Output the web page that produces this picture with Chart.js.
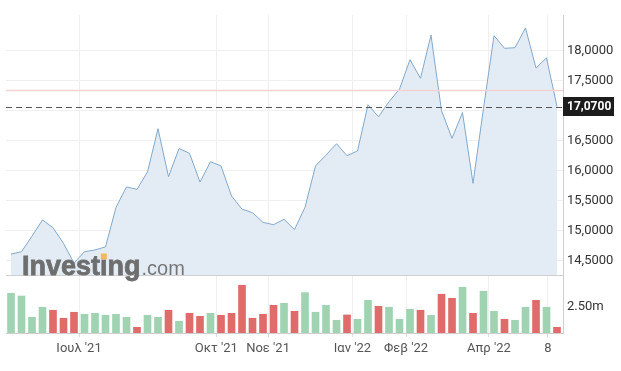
<!DOCTYPE html>
<html>
<head>
<meta charset="utf-8">
<script src="https://cdn.jsdelivr.net/npm/chart.js@4.4.1/dist/chart.umd.min.js"></script>
<style>
  html, body { margin: 0; padding: 0; background: #fff; }
  #wrap { width: 621px; height: 371px; }
</style>
</head>
<body>
<div id="wrap"><canvas id="chart" width="621" height="371"></canvas></div>
<script>
// weekly closes (index 0 = first week of the range)
const closes = [14.61, 14.65, 14.91, 15.18, 15.05, 14.79, 14.46, 14.65, 14.68, 14.73,
  15.39, 15.73, 15.69, 15.98, 16.70, 15.90, 16.37, 16.29, 15.81, 16.15,
  16.08, 15.58, 15.36, 15.30, 15.14, 15.10, 15.19, 15.02, 15.39, 16.08,
  16.26, 16.45, 16.25, 16.33, 17.10, 16.90, 17.15, 17.36, 17.85, 17.54,
  18.26, 17.00, 16.54, 16.97, 15.79, 17.04, 18.25, 18.04, 18.05, 18.38,
  17.71, 17.88, 17.07];

// weekly volume, millions
const volumes = [3.72, 3.46, 1.47, 2.41, 2.13, 1.38, 1.94, 1.75, 1.84, 1.66,
  1.75, 1.47, 0.53, 1.66, 1.47, 2.13, 1.10, 1.84, 1.56, 1.84,
  1.66, 1.84, 4.47, 1.38, 1.75, 2.59, 2.78, 2.03, 3.78, 1.94,
  2.59, 1.19, 1.69, 1.28, 3.06, 2.50, 2.41, 1.28, 2.22, 2.13,
  1.66, 3.63, 3.25, 4.28, 1.84, 3.91, 2.03, 1.28, 1.19, 2.41,
  3.06, 2.41, 0.53];

// month markers on the week axis
const xTickPos = [6.48, 19.55, 24.48, 32.52, 37.62, 45.52, 51.14];
const xTickLabels = ["Ιουλ '21", "Οκτ '21", "Νοε '21", "Ιαν '22", "Φεβ '22", "Απρ '22", "8"];

const priceTicks = [14.5, 15, 15.5, 16, 16.5, 17, 17.5, 18];
const volTicks = [2.5];

const refLevel = 17.345;   // pink line
const lastClose = closes[closes.length - 1];

const priceMin = 14.262, priceMax = 18.595;
const volMax = 5.43;

const GREEN = '#9fd3b1';
const RED = '#e06b6b';

Chart.defaults.font.family = 'Roboto';
Chart.defaults.font.size = 13;

const pricePoints = closes.map((v, i) => ({ x: i, y: v }));
const volPoints = volumes.map((v, i) => ({ x: i, y: v }));
const volColors = closes.map((v, i) => (i === 0 || v >= closes[i - 1]) ? GREEN : RED);

const fmtPrice = v => v.toFixed(4).replace('.', ',');

const overlay = {
  id: 'overlay',
  afterDatasetsDraw(chart) {
    const { ctx, chartArea: a, scales: { y } } = chart;
    ctx.save();
    // pink reference line
    const yr = Math.round(y.getPixelForValue(refLevel)) + 0.5;
    ctx.strokeStyle = '#f3d2d2';
    ctx.lineWidth = 1.5;
    ctx.beginPath();
    ctx.moveTo(a.left, yr);
    ctx.lineTo(a.right, yr);
    ctx.stroke();
    // dashed last price
    const yl = Math.round(y.getPixelForValue(lastClose)) + 0.5;
    ctx.strokeStyle = '#555';
    ctx.lineWidth = 1;
    ctx.setLineDash([6, 4]);
    ctx.beginPath();
    ctx.moveTo(a.left, yl);
    ctx.lineTo(a.right, yl);
    ctx.stroke();
    ctx.restore();
  },
  afterDraw(chart) {
    const { ctx, chartArea: a, scales: { y } } = chart;
    ctx.save();
    // last price tag
    const yl = Math.round(y.getPixelForValue(lastClose));
    ctx.fillStyle = '#1c1c1c';
    ctx.fillRect(a.right, yl - 10, 51, 19);
    ctx.fillStyle = '#fff';
    ctx.font = 'bold 12px Roboto';
    ctx.textBaseline = 'middle';
    ctx.fillText(fmtPrice(lastClose), a.right + 4, yl);

    // watermark
    const bx = 22, by = 275;
    ctx.textBaseline = 'alphabetic';
    ctx.font = 'bold 27px "Liberation Sans"';
    ctx.fillStyle = '#6e6e6e';
    ctx.strokeStyle = '#6e6e6e';
    ctx.lineWidth = 0.8;
    ctx.fillText('Investing', bx, by);
    ctx.strokeText('Investing', bx, by);
    const w = ctx.measureText('Investing').width;
    const wi = ctx.measureText('Invest').width;
    const iw = ctx.measureText('i').width;
    ctx.fillStyle = '#f0b95a';
    ctx.fillRect(bx + wi + iw / 2 - 3, by - 21.5, 6, 6);
    ctx.font = '20px "Liberation Sans"';
    ctx.fillStyle = '#777';
    ctx.fillText('.com', bx + w + 1, by);
    ctx.restore();
  }
};

new Chart(document.getElementById('chart'), {
  data: {
    datasets: [{
      type: 'line',
      data: pricePoints,
      yAxisID: 'y',
      borderColor: '#82a8ca',
      borderWidth: 1,
      backgroundColor: '#e3ecf5',
      fill: 'start',
      pointRadius: 0,
      tension: 0
    }, {
      type: 'bar',
      data: volPoints,
      yAxisID: 'yv',
      backgroundColor: volColors,
      barThickness: 7
    }]
  },
  options: {
    responsive: false,
    animation: false,
    layout: { padding: { left: 6, top: 15, right: 0, bottom: 0 } },
    plugins: { legend: { display: false }, tooltip: { enabled: false } },
    scales: {
      x: {
        type: 'linear',
        offset: false,
        min: -0.476,
        max: 52.57,
        afterBuildTicks: s => { s.ticks = xTickPos.map(v => ({ value: v })); },
        afterFit: s => { s.height = 38; },
        ticks: {
          autoSkip: false,
          maxRotation: 0,
          padding: 4,
          color: '#555',
          callback: (v, i) => xTickLabels[i]
        },
        grid: { offset: false, color: '#efefef', tickLength: 4, tickColor: '#dcdcdc' },
        border: { color: '#cfcfcf' }
      },
      y: {
        type: 'linear',
        position: 'right',
        stack: 'main',
        stackWeight: 260,
        min: priceMin,
        max: priceMax,
        afterBuildTicks: s => { s.ticks = priceTicks.map(v => ({ value: v })); },
        afterFit: s => { s.width = 58; },
        ticks: { padding: 4, color: '#333', callback: v => fmtPrice(v) },
        grid: { color: '#f0f0f0', drawTicks: false },
        border: { color: '#cfcfcf' }
      },
      yv: {
        type: 'linear',
        position: 'right',
        stack: 'main',
        stackWeight: 58,
        min: 0,
        max: volMax,
        afterBuildTicks: s => { s.ticks = volTicks.concat([volMax]).map(v => ({ value: v })); },
        afterFit: s => { s.width = 58; },
        ticks: { padding: 4, color: '#333', callback: v => v === volMax ? '' : v.toFixed(2) + 'm' },
        grid: {
          drawTicks: false,
          color: c => c.tick && c.tick.value === volMax ? '#cfcfcf' : 'rgba(0,0,0,0)'
        },
        border: { color: '#cfcfcf' }
      }
    }
  },
  plugins: [overlay]
});
</script>
</body>
</html>
